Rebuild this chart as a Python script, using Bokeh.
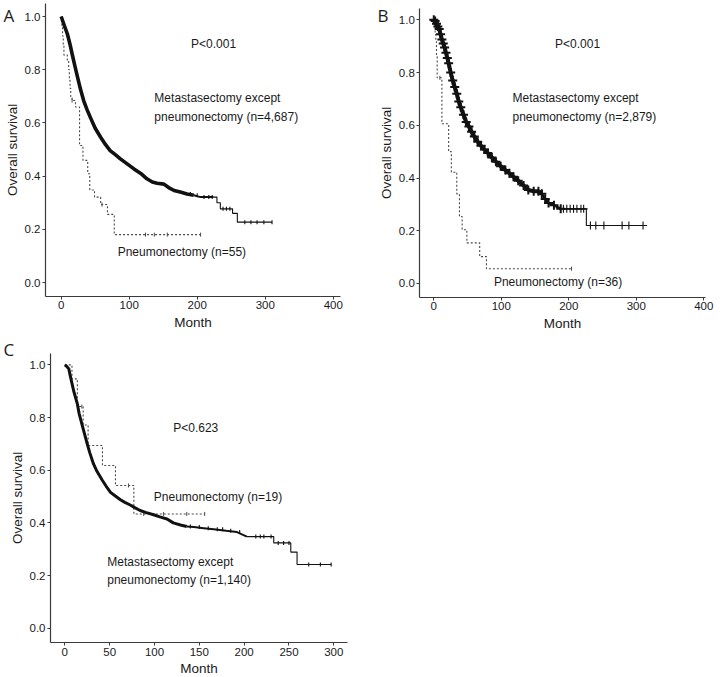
import numpy as np
from bokeh.plotting import figure
from bokeh.models import Label, Range1d, FixedTicker, PrintfTickFormatter, LinearAxis
from bokeh.layouts import column, row
from bokeh.embed import file_html
from bokeh.resources import INLINE

# ---------------- Panel A ----------------
a_met_month = [0, 4, 9, 13, 16, 20, 24, 28, 33, 38, 43, 50, 58, 65, 72, 80, 87, 97, 107, 117,
               126, 134, 141, 151, 158, 166, 175, 185, 195, 205, 215, 224, 229, 234, 252, 259]
a_met_surv = [1.0, 0.97, 0.935, 0.895, 0.86, 0.815, 0.772, 0.73, 0.684, 0.65, 0.62, 0.58, 0.546,
              0.519, 0.496, 0.48, 0.465, 0.446, 0.427, 0.41, 0.39, 0.378, 0.373, 0.37, 0.357, 0.346,
              0.34, 0.333, 0.328, 0.321, 0.321, 0.321, 0.30, 0.277, 0.26, 0.227]
a_met_end = 310
a_met_censor = [190, 200, 210, 217, 222, 238, 243, 248, 270, 279, 288, 298, 310]

a_pn_month = [0, 1, 2, 3, 4, 9, 11, 12, 13, 14, 16, 21, 27, 32, 39, 42, 49, 58, 68, 78]
a_pn_surv = [1.0, 0.964, 0.927, 0.891, 0.855, 0.836, 0.80, 0.76, 0.73, 0.697, 0.684, 0.66, 0.515,
             0.459, 0.409, 0.348, 0.321, 0.293, 0.256, 0.18]
a_pn_end = 205
a_pn_censor = [16, 60, 124, 137, 156, 205]

# ---------------- Panel B ----------------
b_met_month = [0, 2, 4, 6, 8, 10, 12, 14, 16, 18, 20, 22, 25, 28, 31, 34, 37, 40, 44, 48, 52, 56,
               60, 65, 70, 75, 80, 86, 92, 99, 106, 112, 118, 125, 133, 140, 148, 155, 160, 165,
               170, 178, 188, 226]
b_met_surv = [1.0, 0.995, 0.985, 0.975, 0.965, 0.945, 0.925, 0.91, 0.895, 0.875, 0.855, 0.835,
              0.80, 0.77, 0.745, 0.72, 0.69, 0.668, 0.64, 0.612, 0.595, 0.575, 0.557, 0.538, 0.522,
              0.508, 0.495, 0.478, 0.462, 0.445, 0.43, 0.418, 0.405, 0.39, 0.372, 0.355, 0.35,
              0.35, 0.34, 0.32, 0.305, 0.297, 0.283, 0.22]
b_met_end = 310
b_met_censor = [192, 197, 202, 207, 212, 218, 222, 232, 240, 252, 279, 289, 310]

b_pn_month = [0, 1, 2, 3, 4, 5, 12, 22, 26, 34, 38, 42, 49, 68, 78]
b_pn_surv = [1.0, 0.972, 0.944, 0.917, 0.861, 0.78, 0.606, 0.50, 0.422, 0.34, 0.254, 0.204,
             0.154, 0.102, 0.056]
b_pn_end = 204
b_pn_censor = [9, 204]

# ---------------- Panel C ----------------
c_met_month = [0, 2, 4.5, 6, 8, 10, 14, 16, 19, 22, 25, 28, 32, 36, 42, 46, 51, 56, 62, 67, 73,
               78, 84, 90, 99, 106, 114, 121, 129, 136, 144, 155, 166, 180, 192, 203, 233, 252, 259]
c_met_surv = [1.0, 0.995, 0.985, 0.96, 0.93, 0.9, 0.852, 0.815, 0.776, 0.738, 0.70, 0.665, 0.624,
              0.595, 0.561, 0.54, 0.516, 0.503, 0.488, 0.478, 0.468, 0.458, 0.447, 0.44, 0.431,
              0.423, 0.415, 0.40, 0.392, 0.386, 0.384, 0.38, 0.376, 0.37, 0.365, 0.348, 0.324,
              0.289, 0.242]
c_met_end = 297
c_met_censor = [140, 150, 160, 170, 176, 185, 195, 213, 218, 222, 230, 238, 244, 250, 272, 285, 297]

c_pn_month = [0, 8, 14, 20.5, 26, 42, 56.5, 77]
c_pn_surv = [1.0, 0.947, 0.842, 0.772, 0.694, 0.618, 0.542, 0.434]
c_pn_end = 156
c_pn_censor = [19, 71, 88, 110, 136, 156]

xticks_ab = [0, 100, 200, 300, 400]
xticks_c = [0, 50, 100, 150, 200, 250, 300]
yticks = [0.0, 0.2, 0.4, 0.6, 0.8, 1.0]

FONT = "Liberation Sans"
TXT = "#1a1a1a"
AX = "#3a3a3a"


def surv_at(months, survs, t):
    idx = np.searchsorted(np.asarray(months, dtype=float), np.asarray(t, dtype=float), side="right") - 1
    return np.asarray(survs)[idx]


def style_axis(ax, label):
    ax.axis_label = label
    ax.axis_line_color = AX
    ax.axis_line_width = 1.2
    ax.major_tick_line_color = AX
    ax.major_tick_in = 0
    ax.major_tick_out = 3
    ax.minor_tick_line_color = None
    ax.major_label_text_font = FONT
    ax.major_label_text_font_size = "11.5px"
    ax.major_label_text_color = TXT
    ax.major_label_standoff = 2
    ax.axis_label_text_font = FONT
    ax.axis_label_text_font_size = "13.5px"
    ax.axis_label_text_font_style = "normal"
    ax.axis_label_text_color = TXT
    ax.axis_label_standoff = 2


def make_fig(w, h, xr, yr, xticks, x_axis_at, y_axis_at, xbounds, ybounds):
    # the frame fills the whole canvas; axes sit at fixed data positions with bounds
    p = figure(output_backend="svg", toolbar_location=None,
               x_range=Range1d(*xr), y_range=Range1d(*yr),
               frame_width=w, frame_height=h, x_axis_type=None, y_axis_type=None,
               min_border=0)
    p.background_fill_color = "white"
    p.border_fill_color = "white"
    p.outline_line_color = None
    p.grid.visible = False
    xa = LinearAxis(ticker=FixedTicker(ticks=xticks), fixed_location=x_axis_at, bounds=xbounds)
    ya = LinearAxis(ticker=FixedTicker(ticks=yticks), fixed_location=y_axis_at, bounds=ybounds,
                    formatter=PrintfTickFormatter(format="%.1f"))
    style_axis(xa, "Month")
    style_axis(ya, "Overall survival")
    p.add_layout(xa, "below")
    p.add_layout(ya, "left")
    return p


def draw_dashed(p, months, survs, end, censor):
    xs = list(months) + [end]
    ys = list(survs) + [survs[-1]]
    p.step(xs, ys, mode="after", line_color="#4a4a4a", line_width=1.1, line_dash="2 2")
    p.scatter(censor, surv_at(months, survs, censor), marker="dash", angle=np.pi / 2,
              size=4, line_color="#4a4a4a", line_width=1)


def draw_solid(p, months, survs, end, censor, thick_until, mid_until, thick_w, mid_w,
               cross=False):
    m = np.asarray(months, dtype=float)
    s = np.asarray(survs, dtype=float)
    k1 = int(np.searchsorted(m, thick_until, side="right"))
    k2 = int(np.searchsorted(m, mid_until, side="right"))
    xs = list(months) + [end]
    ys = list(survs) + [survs[-1]]
    p.step(xs[k2 - 1:], ys[k2 - 1:], mode="after", line_color="#111111", line_width=1.1)
    p.line(m[k1 - 1:k2], s[k1 - 1:k2], line_color="#111111", line_width=mid_w)
    p.line(m[:k1], s[:k1], line_color="#111111", line_width=thick_w, line_join="round")
    if cross:
        p.scatter(m[:k2], s[:k2], marker="cross", size=9, line_color="#111111", line_width=2)
        p.scatter(censor, surv_at(months, survs, censor), marker="cross", size=8,
                  line_color="#111111", line_width=1.1)
    else:
        p.scatter(censor, surv_at(months, survs, censor), marker="dash", angle=np.pi / 2,
                  size=4, line_color="#111111", line_width=1.1)


def add_text(p, x, y, text, size="12px", align="left", font=FONT):
    p.add_layout(Label(x=x, y=y, text=text, text_font=font, text_font_size=size,
                       text_color=TXT, text_align=align, text_baseline="middle"))


# ---------- figure A : canvas 360 x 338 ----------
pA = make_fig(360, 338, (-89.26, 440.1), (-0.2105, 1.0602), xticks_ab, -0.0526, -23.09,
              (-23.09, 410.7), (-0.0526, 1.0489))
draw_dashed(pA, a_pn_month, a_pn_surv, a_pn_end, a_pn_censor)
draw_solid(pA, a_met_month, a_met_surv, a_met_end, a_met_censor, 195, 224, 3.6, 2.0)
add_text(pA, 224, 0.898, "P<0.001", align="center")
add_text(pA, 137, 0.695, "Metastasectomy except")
add_text(pA, 137, 0.624, "pneumonectomy (n=4,687)")
add_text(pA, 83, 0.113, "Pneumonectomy (n=55)")
add_text(pA, -84.9, 1.004, "A", size="17px", font="Open Sans")

# ---------- figure B : canvas 362 x 338 ----------
pB = make_fig(362, 338, (-108.6, 427.7), (-0.2086, 1.0732), xticks_ab, -0.0531, -20.74,
              (-20.74, 402.5), (-0.0531, 1.0429))
draw_dashed(pB, b_pn_month, b_pn_surv, b_pn_end, b_pn_censor)
draw_solid(pB, b_met_month, b_met_surv, b_met_end, b_met_censor, 160, 188, 4.0, 2.5, cross=True)
add_text(pB, 213, 0.91, "P<0.001", align="center")
add_text(pB, 116.6, 0.705, "Metastasectomy except")
add_text(pB, 116.6, 0.63, "pneumonectomy (n=2,879)")
add_text(pB, 89, 0.004, "Pneumonectomy (n=36)")
add_text(pB, -83.4, 1.016, "B", size="17px", font="Open Sans")

# ---------- figure C : canvas 357 x 339 ----------
pC = make_fig(357, 339, (-71.7, 326.4), (-0.1872, 1.1003), xticks_c, -0.0555, -15.95,
              (-15.95, 315.3), (-0.0555, 1.0444))
draw_dashed(pC, c_pn_month, c_pn_surv, c_pn_end, c_pn_censor)
draw_solid(pC, c_met_month, c_met_surv, c_met_end, c_met_censor, 136, 203, 3.0, 2.0)
add_text(pC, 146, 0.76, "P<0.623", align="center")
add_text(pC, 99.3, 0.50, "Pneumonectomy (n=19)")
add_text(pC, 47.3, 0.253, "Metastasectomy except")
add_text(pC, 47.3, 0.184, "pneumonectomy (n=1,140)")
add_text(pC, -68.4, 1.0585, "C", size="17px", font="Open Sans")

layout = column(row(pA, pB), pC)
open("out.html", "w").write(file_html(layout, INLINE))
